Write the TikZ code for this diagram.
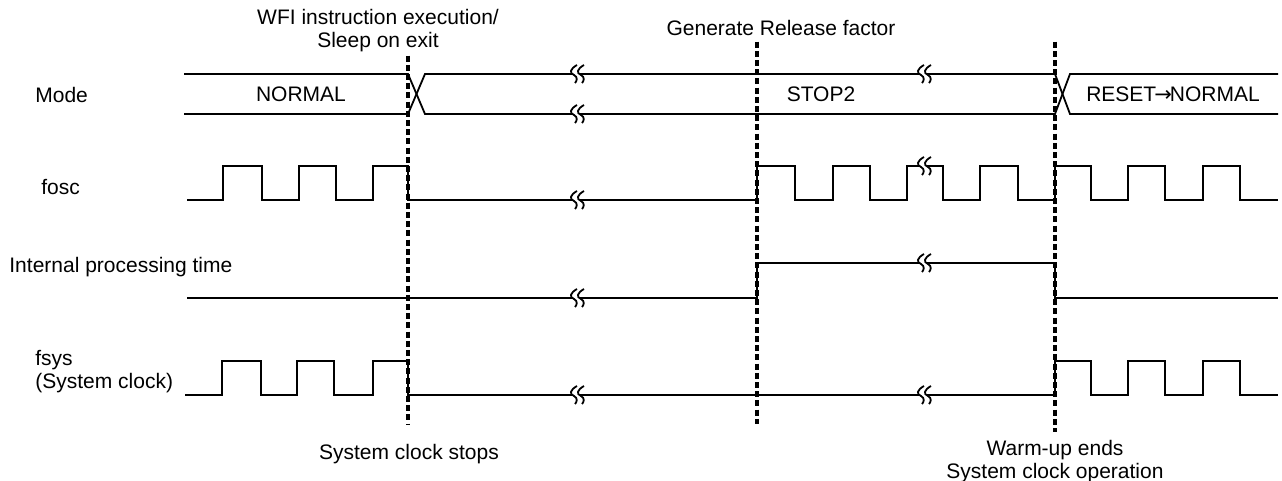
\documentclass[tikz,border=0pt]{standalone}
\usepackage{fontspec}
\setmainfont{Liberation Sans}
\newfontfamily\arrowfont{DejaVu Sans}
\usepackage{tikz}
\usetikzlibrary{positioning}

\begin{document}
\begin{tikzpicture}[
          x=0.5pt, y=-0.5pt,
          every node/.style={font=\fontsize{10.5}{11.5}\selectfont, inner sep=0pt},
          sig/.style={line width=0.9pt, line join=miter},
          cut/.style={line width=1.6pt, dash pattern=on 3pt off 1.6pt},
          brk/.pic={
            \fill[white] (-1,-9) .. controls (-8,-5) and (-9,-1) .. (-4,1) .. controls (0,3) and (-1,7) .. (-3,9)
              -- (4,9) .. controls (6,7) and (7,3) .. (3,1) .. controls (-2,-1) and (-1,-5) .. (6,-9) -- cycle;
            \draw[line width=0.9pt] (-1,-9) .. controls (-8,-5) and (-9,-1) .. (-4,1) .. controls (0,3) and (-1,7) .. (-3,9);
            \draw[line width=0.9pt] (6,-9) .. controls (-1,-5) and (-2,-1) .. (3,1) .. controls (7,3) and (6,7) .. (4,9);
          }
      ]
        \useasboundingbox (0,0) rectangle (1282,481);
        % row labels
        \node[anchor=base west] (mode) at (35,103) {Mode};
        \node[anchor=base west] (fosc) at (41,195) {fosc};
        \node[anchor=base west] (ipt) at (9,273) {Internal processing time};
        \node[anchor=north west, align=left] (fsys) at (35,350) {fsys\\(System clock)};
        % event labels
        \node[align=center] (wfi) at (378,31) {WFI instruction execution/\\Sleep on exit};
        \node[anchor=base] (rel) at (781,36) {Generate Release factor};
        \node[anchor=base] (stops) at (409,459) {System clock stops};
        \node[align=center] (warm) at (1055,462) {Warm-up ends\\System clock operation};
        % mode bus
        \node[anchor=base] (normal) at (301,102) {NORMAL};
        \node[anchor=base] (stop2) at (821,102) {STOP2};
        \node[anchor=base] (reset) at (1173,102) {RESET{\arrowfont\hspace{-1pt}→\hspace{-1pt}}NORMAL};
        \draw[sig] (184,74) -- (408,74) -- (425,114) -- (1055,114) -- (1070,74) -- (1278,74);
        \draw[sig] (184,114) -- (408,114) -- (425,74) -- (1055,74) -- (1070,114) -- (1278,114);
        % fosc
        \draw[sig] (187,200) -- (223,200) -- (223,166) -- (262,166) -- (262,200) -- (299,200) -- (299,166)
          -- (336,166) -- (336,200) -- (373,200) -- (373,166) -- (408,166) -- (408,200) -- (757,200)
          -- (757,166) -- (795,166) -- (795,200) -- (833,200) -- (833,166) -- (870,166) -- (870,200)
          -- (907,200) -- (907,166) -- (943,166) -- (943,200) -- (980,200) -- (980,166) -- (1018,166)
          -- (1018,200) -- (1055,200) -- (1055,166) -- (1091,166) -- (1091,200) -- (1128,200) -- (1128,166)
          -- (1165,166) -- (1165,200) -- (1203,200) -- (1203,166) -- (1240,166) -- (1240,200) -- (1278,200);
        % internal processing time
        \draw[sig] (187,298) -- (757,298) -- (757,263) -- (1055,263) -- (1055,298) -- (1278,298);
        % fsys
        \draw[sig] (185,395) -- (222,395) -- (222,361) -- (261,361) -- (261,395) -- (297,395) -- (297,361)
          -- (334,361) -- (334,395) -- (373,395) -- (373,361) -- (408,361) -- (408,395) -- (1055,395)
          -- (1055,361) -- (1091,361) -- (1091,395) -- (1128,395) -- (1128,361) -- (1165,361) -- (1165,395)
          -- (1203,395) -- (1203,361) -- (1240,361) -- (1240,395) -- (1278,395);
        % time breaks
        \pic at (578,74) {brk};
        \pic at (578,114) {brk};
        \pic at (925,74) {brk};
        \pic at (578,200) {brk};
        \pic at (925,166) {brk};
        \pic at (578,298) {brk};
        \pic at (925,263) {brk};
        \pic at (578,395) {brk};
        \pic at (925,395) {brk};
        % event lines
        \coordinate (c1) at (408,424);
        \coordinate (c2) at (757,424);
        \coordinate (c3) at (1055,432);
        \draw[cut] (wfi.south -| c1) ++(0,3) -- (c1);
        \draw[cut] (rel.south -| c2) ++(0,5) -- (c2);
        \draw[cut] (rel.south -| c3) ++(0,5) -- (c3);
      \end{tikzpicture}
\end{document}
